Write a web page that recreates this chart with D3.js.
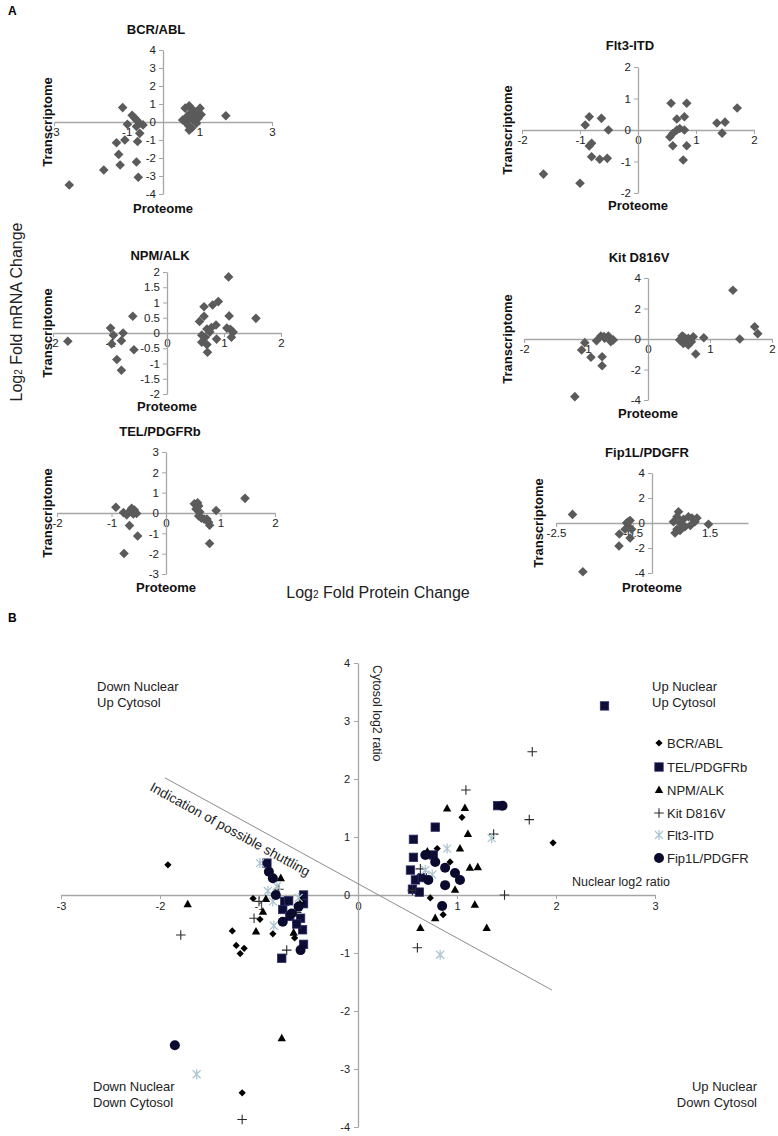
<!DOCTYPE html>
<html><head><meta charset="utf-8">
<script src="https://cdn.jsdelivr.net/npm/d3@7"></script>
<style>body{margin:0;background:#fff}</style>
</head><body>
<svg id="c" width="778" height="1136"></svg>
<script>
// ---------- Panel A data (Proteome = x, Transcriptome = y) ----------
const bcrAblProteome = [-2.58,-1.63,-1.18,-1.22,-1.28,-1.05,-1.11,-0.98,-0.85,-0.77,-0.73,-0.64,-0.55,-0.64,-0.70,-0.73,-0.68,-0.73,
  0.61,0.72,0.82,1.02,0.88,0.75,0.61,0.54,0.70,0.79,0.92,0.96,1.05,0.83,0.75,0.66,1.73,0.72,0.90];
const bcrAblTranscriptome = [-3.5,-2.67,-2.39,-1.8,-1.15,-1.0,0.8,-0.13,0.37,0.21,-0.25,-0.07,-0.16,-0.63,-1.08,-2.22,-3.07,0.11,
  0.77,0.9,0.68,0.77,0.41,0.2,0.02,0.11,-0.2,-0.33,-0.06,0.2,0.41,0.11,0.48,0.3,0.35,-0.45,0.55];

const flt3Proteome = [-1.63,-1.0,-0.91,-0.84,-0.63,-0.51,-0.84,-0.80,-0.80,-0.66,-0.53,
  0.57,0.84,0.67,0.80,0.55,0.60,0.67,0.72,0.80,0.60,0.84,0.78,1.36,1.50,1.45,1.71];
const flt3Transcriptome = [-1.4,-1.69,0.16,0.42,0.37,0,-0.51,-0.42,-0.85,-0.93,-0.9,
  0.85,0.85,0.35,0.42,-0.22,-0.11,0,0.05,0,-0.5,-0.5,-0.95,0.22,0.25,-0.1,0.7];

const npmAlkProteome = [-1.74,-0.99,-0.94,-0.97,-0.80,-0.77,-0.88,-0.80,-0.60,-0.58,
  0.57,0.65,0.65,0.80,0.90,1.08,1.09,1.56,0.70,0.78,0.86,0.61,0.67,0.61,0.70,0.71,0.87,1.05,1.11,1.16,1.13,0.75];
const npmAlkTranscriptome = [-0.27,0.16,-0.07,-0.36,-0.25,0,-0.87,-1.22,0.55,-0.55,
  0.38,0.55,0.86,0.92,1.03,1.84,0.56,0.48,0.13,0.18,0.26,-0.07,-0.14,-0.3,-0.38,-0.63,-0.2,0.16,0.12,0.03,-0.14,0.03];

const kitProteome = [-1.18,-1.07,-1.02,-0.92,-0.83,-0.76,-0.71,-0.64,-0.60,-0.56,-0.74,-0.74,-0.70,
  0.57,0.65,0.73,0.57,0.65,0.51,0.62,0.70,0.77,0.90,0.55,0.68,0.60,1.37,1.48,1.72,1.77];
const kitTranscriptome = [-3.78,-0.72,-0.24,-1.2,-0.11,0.2,0.16,0.2,-0.17,-0.06,-1.16,-1.75,0.05,
  0.15,0.04,0.15,-0.29,-0.39,-0.07,-0.18,-0.18,-0.98,0.08,0.2,-0.05,0.05,3.2,0,0.8,0.35];

const telProteome = [-0.92,-0.78,-0.72,-0.63,-0.58,-0.54,-0.60,-0.67,-0.52,-0.77,-0.68,
  0.52,0.58,0.55,0.60,0.62,0.60,0.65,0.70,0.75,0.78,0.80,0.92,0.80,1.45];
const telTranscriptome = [0.28,0.02,-0.09,0.23,0.15,-0.02,-0.05,-0.62,-1.13,-1.99,0.05,
  0.45,0.5,0.2,0.35,0.05,-0.15,-0.25,-0.3,-0.3,-0.45,-0.6,0.12,-1.5,0.72];

const fip1lProteome = [-2.07,-0.85,-0.86,-1.80,-0.66,-0.57,-0.61,-0.53,-0.70,-0.57,-0.62,
  0.69,0.65,0.56,0.73,0.82,0.95,1.04,1.17,1.00,0.86,0.65,0.60,0.73,1.12,1.47];
const fip1lTranscriptome = [0.69,-0.88,-1.84,-3.9,0,0.2,-0.3,-0.5,-0.5,-1.2,0.1,
  0.9,0.5,0.1,0,0.3,0.5,0.4,0.4,-0.2,-0.3,-0.5,-0.8,-0.6,0.1,-0.1];

// ---------- Panel B data (Nuclear = x, Cytosol = y) ----------
const seriesNames = ["BCR/ABL","TEL/PDGFRb","NPM/ALK","Kit D816V","Flt3-ITD","Fip1L/PDGFR"];
const bcrNuclear = [-1.92,-1.06,-0.99,-1.27,-1.23,-1.15,-1.19,-0.86,-0.64,-1.17,1.05,0.93,0.73,0.86,1.97,-0.60,0.60,0.80];
const bcrCytosol = [0.52,-0.06,-0.42,-0.62,-0.87,-0.92,-1.01,-0.67,-0.74,-3.41,1.34,0.57,-0.05,-0.34,0.9,-0.2,0.3,0.8];
const telNuclear = [2.49,1.41,0.78,0.56,0.56,0.53,0.58,0.76,0.55,-0.92,-0.74,-0.76,-0.69,-0.77,-0.55,-0.55,-0.58,-0.56,-0.55,-0.70,-0.62,0.65,0.62];
const telCytosol = [3.26,1.54,1.17,0.96,0.65,0.43,0.26,0.69,0.10,0.55,-0.11,-0.25,-0.37,-1.09,0,-0.15,-0.4,-0.6,-0.85,-0.1,-0.5,0.3,0.05];
const npmNuclear = [-1.72,-0.96,-0.93,-1.03,-0.78,-0.65,-0.77,0.90,1.08,1.11,1.03,1.13,0.98,1.18,1.30,0.63,0.78,1.21,-0.58,0.70];
const npmCytosol = [-0.16,-0.29,-0.07,-0.63,0.29,-0.65,-2.47,1.49,1.5,1.05,0.8,0.47,0.09,-0.17,-0.57,-0.57,-0.4,0.48,-0.1,0.75];
const kitNuclear = [-1.79,-1.0,-1.05,-0.72,-1.17,1.09,1.37,1.73,1.76,1.48,0.60,0.55,0.63,-0.62,-0.80];
const kitCytosol = [-0.69,-0.11,-0.4,-0.95,-3.87,1.81,1.05,1.3,2.47,0,-0.91,0.08,0.45,-0.3,0.1];
const flt3Nuclear = [-0.85,-0.91,-0.82,-0.86,-1.63,-0.99,1.35,0.83,0.90,0.68,0.75,-0.60];
const flt3Cytosol = [-0.53,0.07,0.15,-0.11,-3.09,0.55,0.98,-1.03,0.8,0.43,0.35,-0.05];
const fipNuclear = [-0.86,-0.83,-0.76,-0.67,-1.85,-0.90,-0.58,1.46,0.68,0.78,0.88,0.98,0.71,0.88,1.03,0.85,-0.60];
const fipCytosol = [0.29,0,-0.46,-0.32,-2.59,0.4,-0.95,1.54,0.69,0.57,0.47,0.38,0.26,0.17,0.26,-0.19,-0.2];
const shuttleNuclear = [-1.95, 1.96];
const shuttleCytosol = [2.02, -1.64];

// ---------- drawing ----------
const FONT = "'Liberation Sans', Arial, Helvetica, sans-serif";
const svg = d3.select("#c").style("font-family", FONT);
svg.append("rect").attr("width",778).attr("height",1136).attr("fill","#fff");
const fmt = d => String(d);
const AX = "#a6a6a6";

function styleAxis(g){
  g.select(".domain").attr("stroke", AX).attr("stroke-width", 1.3);
  g.selectAll(".tick line").attr("stroke", AX);
  g.selectAll(".tick text").attr("fill", "#222").style("font-family", FONT);
}

function subplot(c, xs, ys){
  const x = d3.scaleLinear().domain(c.xd).range(c.xr);
  const y = d3.scaleLinear().domain(c.yd).range(c.yr);
  const g = svg.append("g");
  const gx = g.append("g").attr("transform", `translate(0,${y(0)})`)
    .call(d3.axisBottom(x).tickValues(c.xt).tickSize(4).tickSizeOuter(0).tickFormat(fmt).tickPadding(2));
  gx.selectAll("text").attr("font-size", 11.5);
  styleAxis(gx);
  const gy = g.append("g").attr("transform", `translate(${x(0)},0)`)
    .call(d3.axisLeft(y).tickValues(c.yt).tickSize(4).tickSizeOuter(0).tickFormat(fmt).tickPadding(3));
  gy.selectAll("text").attr("font-size", 11.5);
  styleAxis(gy);
  g.append("text").attr("x", c.title[0]).attr("y", c.title[1]).attr("text-anchor","middle")
    .attr("font-size",13).attr("font-weight","bold").attr("fill","#111").text(c.name);
  g.append("text").attr("transform", `translate(${c.tx},${(c.yr[0]+c.yr[1])/2}) rotate(-90)`)
    .attr("text-anchor","middle").attr("font-size",13).attr("font-weight","bold").attr("fill","#111").text("Transcriptome");
  g.append("text").attr("x", x(0)).attr("y", c.py).attr("text-anchor","middle")
    .attr("font-size",13).attr("font-weight","bold").attr("fill","#111").text("Proteome");
  const dia = "M0,-4.8L4.8,0L0,4.8L-4.8,0Z";
  g.selectAll("path.pt").data(xs.map((v,i)=>[v, ys[i]])).enter().append("path")
    .attr("class","pt").attr("d", dia).attr("fill","#5b5b5b")
    .attr("transform", d => `translate(${x(d[0])},${y(d[1])})`);
}

subplot({name:"BCR/ABL", xd:[-3,3], xr:[54,272], yd:[-4,4], yr:[194,50], xt:[-3,-1,1,3], yt:[-4,-3,-2,-1,0,1,2,3,4],
  title:[156,34], tx:52, py:213}, bcrAblProteome, bcrAblTranscriptome);
subplot({name:"Flt3-ITD", xd:[-2,2], xr:[522,754], yd:[-2,2], yr:[193,67], xt:[-2,-1,0,1,2], yt:[-2,-1,0,1,2],
  title:[630,50], tx:512, py:210}, flt3Proteome, flt3Transcriptome);
subplot({name:"NPM/ALK", xd:[-2,2], xr:[53,281], yd:[-2,2], yr:[394,272], xt:[-2,-1,0,1,2], yt:[-2,-1.5,-1,-0.5,0,0.5,1,1.5,2],
  title:[160,260], tx:52, py:411}, npmAlkProteome, npmAlkTranscriptome);
subplot({name:"Kit D816V", xd:[-2,2], xr:[524,772], yd:[-4,4], yr:[400,278], xt:[-2,-1,0,1,2], yt:[-4,-2,0,2,4],
  title:[639,262], tx:512, py:418}, kitProteome, kitTranscriptome);
subplot({name:"TEL/PDGFRb", xd:[-2,2], xr:[57,275], yd:[-3,3], yr:[574,452], xt:[-2,-1,0,1,2], yt:[-3,-2,-1,0,1,2,3],
  title:[160,436], tx:52, py:592}, telProteome, telTranscriptome);
subplot({name:"Fip1L/PDGFR", xd:[-2.5,2.5], xr:[556,748], yd:[-4,4], yr:[573,473], xt:[-2.5,-0.5,1.5], yt:[-4,-2,0,2,4],
  title:[647,457], tx:543, py:592}, fip1lProteome, fip1lTranscriptome);

// panel letters and shared titles
svg.append("text").attr("x",8).attr("y",15).attr("font-size",12).attr("font-weight","bold").text("A");
svg.append("text").attr("x",8).attr("y",622).attr("font-size",12).attr("font-weight","bold").text("B");
const yt = svg.append("text").attr("transform","translate(22,312) rotate(-90)").attr("text-anchor","middle")
  .attr("font-size",16).attr("fill","#222");
yt.append("tspan").text("Log");
yt.append("tspan").attr("font-size",10).text("2");
yt.append("tspan").text(" Fold mRNA Change");
const xt = svg.append("text").attr("x",378).attr("y",598).attr("text-anchor","middle").attr("font-size",16).attr("fill","#222");
xt.append("tspan").text("Log");
xt.append("tspan").attr("font-size",10).text("2");
xt.append("tspan").text(" Fold Protein Change");

// ---------- Panel B ----------
const bx = d3.scaleLinear().domain([-3,3]).range([61,655]);
const by = d3.scaleLinear().domain([-4,4]).range([1127,663]);
const B = svg.append("g");
const bgx = B.append("g").attr("transform",`translate(0,${by(0)})`)
  .call(d3.axisBottom(bx).tickValues([-3,-2,-1,0,1,2,3]).tickSize(4).tickSizeOuter(0).tickFormat(fmt).tickPadding(3));
bgx.selectAll("text").attr("font-size",11);
styleAxis(bgx);
const bgy = B.append("g").attr("transform",`translate(${bx(0)},0)`)
  .call(d3.axisLeft(by).tickValues([-4,-3,-2,-1,0,1,2,3,4]).tickSize(4).tickSizeOuter(0).tickFormat(fmt).tickPadding(4));
bgy.selectAll("text").attr("font-size",11);
styleAxis(bgy);

B.append("text").attr("transform",`translate(${bx(0)+15},${by(4)+2}) rotate(90)`).attr("font-size",12.5).attr("fill","#222").text("Cytosol log2 ratio");
B.append("text").attr("x",572).attr("y",by(0)-9).attr("font-size",12.5).attr("fill","#222").text("Nuclear log2 ratio");

// shuttling line
B.append("line").attr("x1",bx(shuttleNuclear[0])).attr("y1",by(shuttleCytosol[0]))
  .attr("x2",bx(shuttleNuclear[1])).attr("y2",by(shuttleCytosol[1])).attr("stroke","#8c8c8c").attr("stroke-width",1);
const ang = Math.atan2(by(shuttleCytosol[1])-by(shuttleCytosol[0]), bx(shuttleNuclear[1])-bx(shuttleNuclear[0]))*180/Math.PI;
B.append("text").attr("transform",`translate(149,790) rotate(${ang})`).attr("font-size",13.5).attr("fill","#222").text("Indication of possible shuttling");

// quadrant labels
function q(x, y, lines, anchor){
  lines.forEach((t,i)=>B.append("text").attr("x",x).attr("y",y+i*15.5).attr("text-anchor",anchor)
    .attr("font-size",13).attr("fill","#222").text(t));
}
q(97,691,["Down Nuclear","Up Cytosol"],"start");
q(652,691,["Up Nuclear","Up Cytosol"],"start");
q(93,1091,["Down Nuclear","Down Cytosol"],"start");
q(757,1091,["Up Nuclear","Down Cytosol"],"end");

// markers
const markers = {
  "BCR/ABL": g => g.append("path").attr("d","M0,-3.6L3.6,0L0,3.6L-3.6,0Z").attr("fill","#000"),
  "TEL/PDGFRb": g => g.append("rect").attr("x",-4.2).attr("y",-4.2).attr("width",8.4).attr("height",8.4).attr("fill","#0d0d36").attr("stroke","#2c2c6a").attr("stroke-width",0.8),
  "NPM/ALK": g => g.append("path").attr("d","M0,-4.6L4.2,3L-4.2,3Z").attr("fill","#000"),
  "Kit D816V": g => g.append("path").attr("d","M-4.8,0H4.8M0,-4.8V4.8").attr("stroke","#2a2a2a").attr("stroke-width",1.1).attr("fill","none"),
  "Flt3-ITD": g => g.append("path").attr("d","M-4,-4L4,4M-4,4L4,-4M0,-5V5").attr("stroke","#adc6d2").attr("stroke-width",1.3).attr("fill","none"),
  "Fip1L/PDGFR": g => g.append("circle").attr("r",5).attr("fill","#0a0a2e")
};
const seriesData = [
  ["BCR/ABL", bcrNuclear, bcrCytosol],
  ["TEL/PDGFRb", telNuclear, telCytosol],
  ["NPM/ALK", npmNuclear, npmCytosol],
  ["Kit D816V", kitNuclear, kitCytosol],
  ["Flt3-ITD", flt3Nuclear, flt3Cytosol],
  ["Fip1L/PDGFR", fipNuclear, fipCytosol]
];
seriesData.forEach(([name, xs, ys]) => {
  xs.forEach((v,i) => {
    const g = B.append("g").attr("transform",`translate(${bx(v)},${by(ys[i])})`);
    markers[name](g);
  });
});
// legend
const legY = [743,767,790,813,835,858];
seriesNames.forEach((n,i) => {
  const g = B.append("g").attr("transform",`translate(659,${legY[i]})`);
  markers[n](g);
  g.append("text").attr("x",8).attr("y",4.5).attr("font-size",13).attr("fill","#222").text(n);
});
</script>
</body></html>
